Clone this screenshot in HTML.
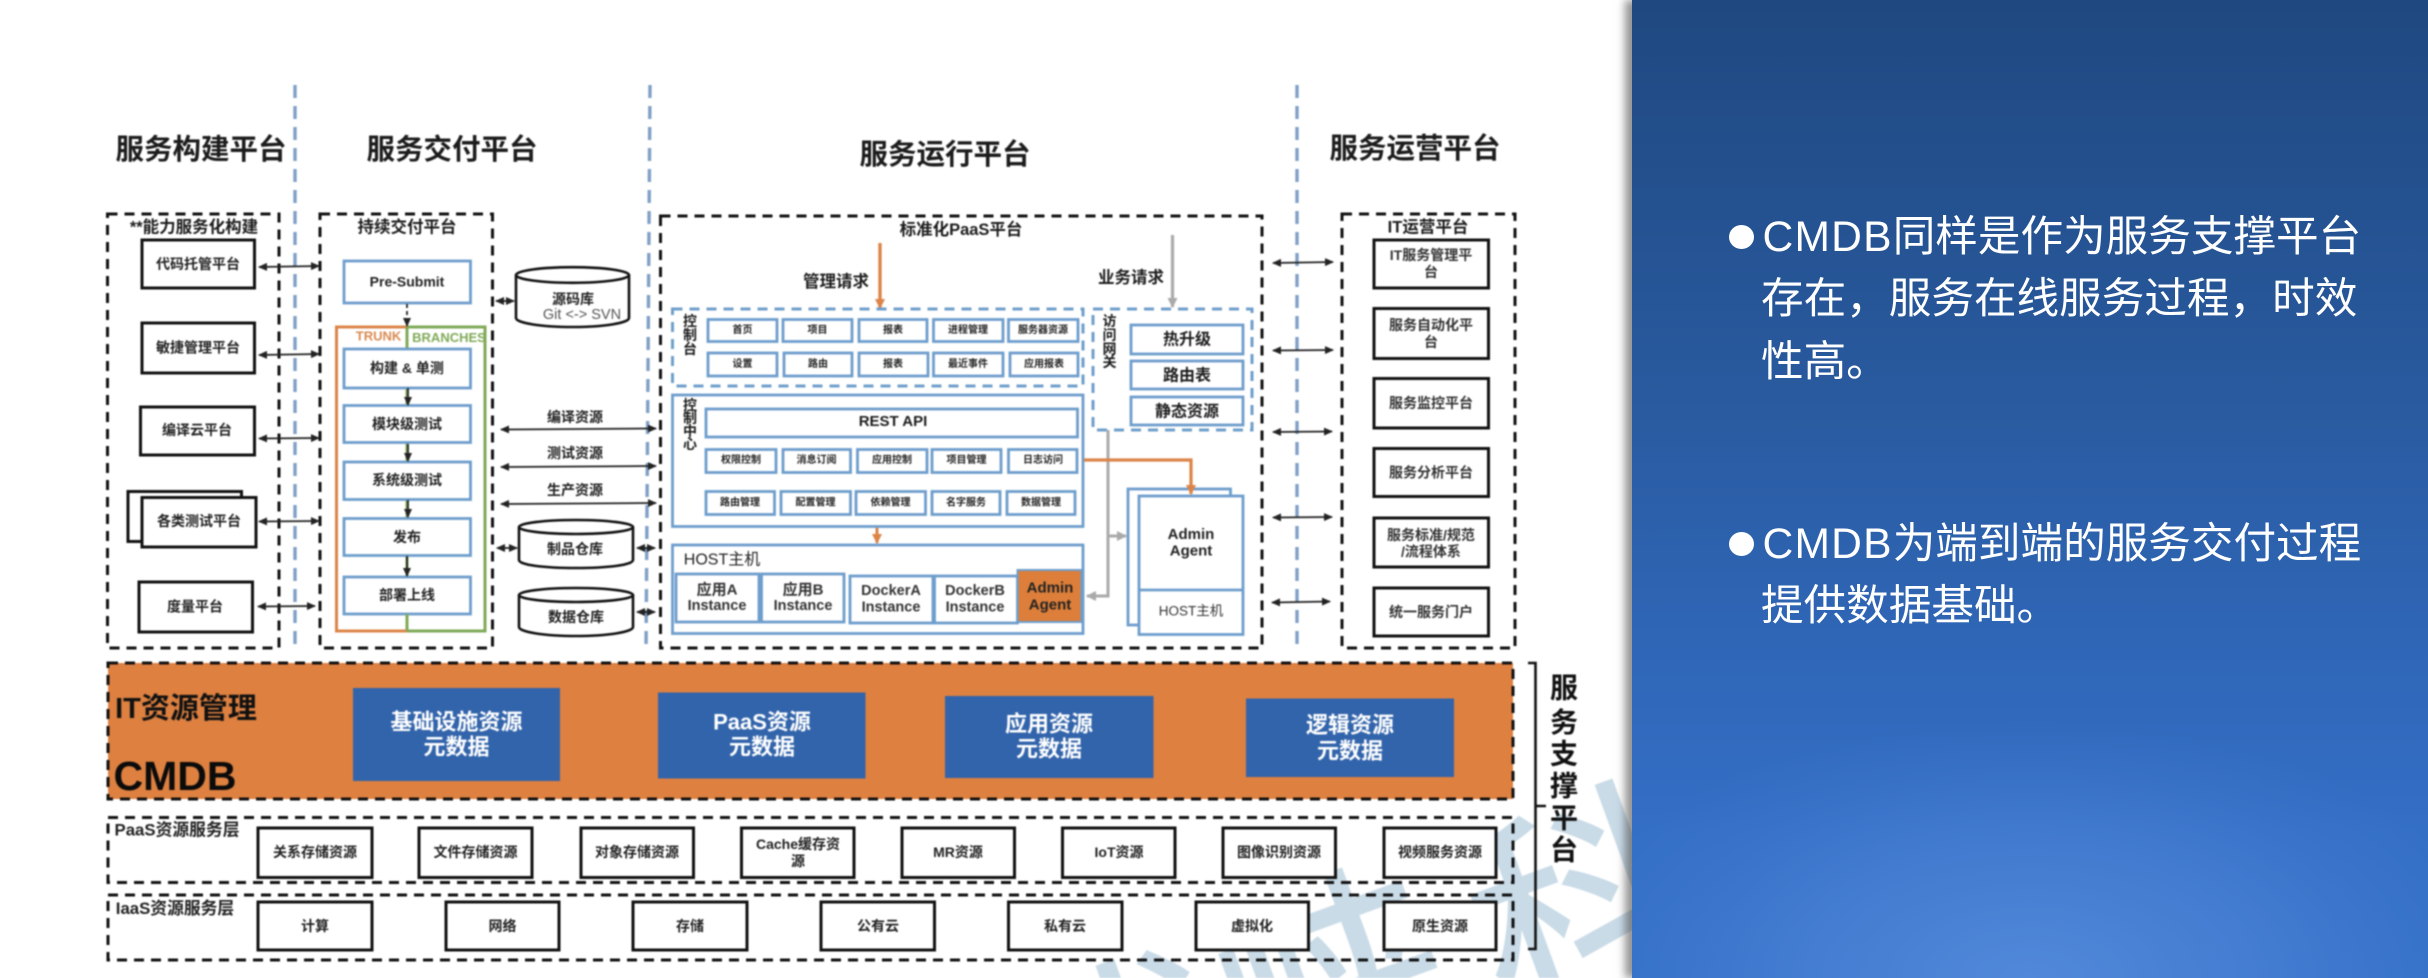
<!DOCTYPE html>
<html lang="zh-CN">
<head>
<meta charset="utf-8">
<title>CMDB 服务支撑平台</title>
<style>
html,body{margin:0;padding:0;background:#fff;width:2428px;height:978px;overflow:hidden;}
body{position:relative;font-family:"Liberation Sans","Noto Sans CJK SC",sans-serif;}
#wrap{position:absolute;left:0;top:0;width:2428px;height:978px;overflow:hidden;contain:paint;}
svg{position:absolute;left:0;top:0;filter:blur(.7px);}
svg text{font-family:"Liberation Sans","Noto Sans CJK SC",sans-serif;font-weight:700;fill:#1c1c1c;text-anchor:middle;dominant-baseline:central;}
.d{fill:none;stroke:#111;stroke-width:3;stroke-dasharray:10 7;}
.bd{fill:none;stroke:#6f9ecb;stroke-width:3;stroke-dasharray:10 7;}
.vl{fill:none;stroke:#7f9fc6;stroke-width:3.4;stroke-dasharray:13 8;}
.k{fill:#fff;stroke:#111;stroke-width:3;}
.b{fill:#fff;stroke:#6d9dcc;stroke-width:2.8;}
.a{stroke:#222;stroke-width:1.8;fill:none;marker-start:url(#ah);marker-end:url(#ah);}
.a1{stroke:#222;stroke-width:1.8;fill:none;marker-end:url(#ah);}
.sm text{font-size:10px;fill:#222;}
.kb text{font-size:14px;fill:#222;}
.bt text{font-size:22px;fill:#fff;}
#panel{position:absolute;left:1632px;top:0;width:796px;height:978px;
background:radial-gradient(ellipse 480px 260px at 50% 100%,rgba(110,160,235,.5) 0%,rgba(110,160,235,.28) 45%,rgba(110,160,235,.08) 80%,rgba(110,160,235,0) 100%),linear-gradient(180deg,#1f4880 0%,#295a9f 40%,#3068ba 70%,#346fc6 85%,#3470c8 100%);
box-shadow:-7px 0 8px rgba(60,60,60,.55);}
.l{position:absolute;left:1761px;color:#fff;font-size:42.6px;line-height:62px;height:62px;white-space:nowrap;font-weight:400;}
.l b{font-weight:400;letter-spacing:1.2px;margin-left:1.5px;}
.dot{position:absolute;left:1729px;width:25px;height:24px;border-radius:50%;background:#fff;}
</style>
</head>
<body>
<div id="wrap">
<svg width="2428" height="978" viewBox="0 0 2428 978" xmlns="http://www.w3.org/2000/svg">
<defs>
<marker id="ah" markerWidth="9" markerHeight="8" refX="8" refY="4" orient="auto-start-reverse" markerUnits="userSpaceOnUse"><path d="M0 0L9 4L0 8z" fill="#222"/></marker>
<marker id="ao" markerWidth="11" markerHeight="10" refX="9" refY="5" orient="auto-start-reverse" markerUnits="userSpaceOnUse"><path d="M0 0L10 5L0 10z" fill="#dc8448"/></marker>
<marker id="ag" markerWidth="11" markerHeight="10" refX="9" refY="5" orient="auto-start-reverse" markerUnits="userSpaceOnUse"><path d="M0 0L10 5L0 10z" fill="#aaa"/></marker>
</defs>

<!-- watermark -->
<g>
<text x="1580" y="905" transform="rotate(-20 1580 905)" style="font-size:215px;fill:#c9dbe7;font-weight:400;stroke:#c9dbe7;stroke-width:3">科</text>
<text x="1335" y="990" transform="rotate(-20 1335 990)" style="font-size:225px;fill:#c9dbe7;font-weight:400;stroke:#c9dbe7;stroke-width:3">峡</text>
<text x="1130" y="1070" transform="rotate(-20 1130 1070)" style="font-size:225px;fill:#c9dbe7;font-weight:400;stroke:#c9dbe7;stroke-width:3">优</text>
</g>

<!-- vertical separators -->
<line class="vl" x1="295" y1="85" x2="295" y2="652"/>
<line class="vl" x1="650" y1="85" x2="646" y2="652"/>
<line class="vl" x1="1297" y1="85" x2="1297" y2="652"/>

<!-- headers -->
<text x="201" y="150" style="font-size:28.5px">服务构建平台</text>
<text x="452" y="150" style="font-size:28.5px">服务交付平台</text>
<text x="945" y="155" style="font-size:28.5px">服务运行平台</text>
<text x="1415" y="149" style="font-size:28.5px">服务运营平台</text>

<!-- outer dashed -->
<rect class="d" x="107.5" y="214" width="171.5" height="434"/>
<rect class="d" x="320" y="214" width="172.5" height="434"/>
<rect class="d" x="660.5" y="216" width="601.5" height="432"/>
<rect class="d" x="1342" y="214" width="173" height="434"/>

<text x="194" y="227.5" style="font-size:16.5px">**能力服务化构建</text>
<text x="407" y="227.5" style="font-size:16.5px">持续交付平台</text>
<text x="961" y="230" style="font-size:16.5px">标准化PaaS平台</text>
<text x="1428" y="227.5" style="font-size:16.5px">IT运营平台</text>

<!-- left column -->
<g class="kb">
<rect class="k" x="142" y="240" width="112.5" height="48"/><text x="198" y="264">代码托管平台</text>
<rect class="k" x="142" y="323" width="112.5" height="50"/><text x="198" y="347.5">敏捷管理平台</text>
<rect class="k" x="140.5" y="407" width="114" height="48"/><text x="197" y="430">编译云平台</text>
<rect class="k" x="128" y="491.5" width="113.5" height="50"/>
<rect class="k" x="142" y="497.5" width="114" height="49.5"/><text x="199" y="521">各类测试平台</text>
<rect class="k" x="139" y="582" width="113.5" height="50"/><text x="195" y="606.5">度量平台</text>
</g>
<line class="a" x1="259" y1="267" x2="319" y2="266"/>
<line class="a" x1="259" y1="355" x2="319" y2="354"/>
<line class="a" x1="259" y1="438.5" x2="319" y2="438"/>
<line class="a" x1="259" y1="521.5" x2="319" y2="521"/>
<line class="a" x1="258" y1="606.5" x2="315" y2="606"/>

<!-- delivery column -->
<rect x="336.5" y="327" width="70.5" height="304" fill="#fff" stroke="#dc8448" stroke-width="3"/>
<rect x="407" y="327" width="78" height="304" fill="#fff" stroke="#7fa957" stroke-width="3"/>
<path d="M336.5 327H407M336.5 631H407M336.5 327V631" fill="none" stroke="#dc8448" stroke-width="3"/>
<text x="378.5" y="336" style="font-size:13px;fill:#d98a50">TRUNK</text>
<text x="449" y="337.5" style="font-size:13px;fill:#7fa957">BRANCHES</text>
<line x1="407" y1="327" x2="407" y2="349" stroke="#7fa957" stroke-width="3"/>
<rect class="b" x="344" y="261" width="126.5" height="42"/><text x="407" y="281.5" style="font-size:14px;fill:#222">Pre-Submit</text>
<rect class="b" x="344" y="349" width="126.5" height="39"/><text x="407" y="368" style="font-size:14px;fill:#222">构建 &amp; 单测</text>
<rect class="b" x="344" y="405.5" width="126.5" height="37"/><text x="407" y="424" style="font-size:14px;fill:#222">模块级测试</text>
<rect class="b" x="344" y="462" width="126.5" height="37.5"/><text x="407" y="480" style="font-size:14px;fill:#222">系统级测试</text>
<rect class="b" x="344" y="518.5" width="126.5" height="37"/><text x="407" y="537" style="font-size:14px;fill:#222">发布</text>
<rect class="b" x="344" y="577" width="126.5" height="37"/><text x="407" y="595" style="font-size:14px;fill:#222">部署上线</text>
<line class="a1" x1="407" y1="304" x2="407" y2="326" stroke-dasharray="4 3"/>
<line class="a1" x1="408" y1="388" x2="408" y2="405"/>
<line class="a1" x1="408" y1="444" x2="408" y2="461"/>
<line class="a1" x1="408" y1="500" x2="408" y2="517"/>
<line class="a1" x1="407" y1="556" x2="407" y2="576"/>
<line x1="407" y1="614" x2="407" y2="631" stroke="#7fa957" stroke-width="3"/>

<!-- cylinders -->
<path d="M516 275V318C516 323 541 327 572.5 327S629 323 629 318V275" fill="#fff" stroke="#111" stroke-width="2.6"/>
<ellipse cx="572.5" cy="275" rx="56.5" ry="7.8" fill="#fff" stroke="#111" stroke-width="2.6"/>
<text x="573" y="299" style="font-size:14px;fill:#222">源码库</text>
<text x="582" y="315" style="font-size:14.5px;fill:#555;font-weight:400">Git &lt;-&gt; SVN</text>

<path d="M519 527V560C519 565 544 568 576 568S633 565 633 560V527" fill="#fff" stroke="#111" stroke-width="2.6"/>
<ellipse cx="576" cy="527" rx="57" ry="7" fill="#fff" stroke="#111" stroke-width="2.6"/>
<text x="575" y="549" style="font-size:14px;fill:#222">制品仓库</text>
<path d="M519 595V627C519 632 544 636 576 636S633 632 633 627V595" fill="#fff" stroke="#111" stroke-width="2.6"/>
<ellipse cx="576" cy="595" rx="57" ry="7" fill="#fff" stroke="#111" stroke-width="2.6"/>
<text x="576" y="617" style="font-size:14px;fill:#222">数据仓库</text>

<line class="a" x1="496" y1="301" x2="514" y2="301"/>
<line class="a" x1="497" y1="548" x2="517" y2="548"/>
<line class="a" x1="637" y1="548" x2="655" y2="548"/>
<line class="a" x1="637" y1="612" x2="655" y2="612"/>

<text x="575" y="417" style="font-size:14px;fill:#222">编译资源</text>
<text x="575" y="453" style="font-size:14px;fill:#222">测试资源</text>
<text x="575" y="490" style="font-size:14px;fill:#222">生产资源</text>
<line class="a" x1="501" y1="429.5" x2="656" y2="428.5"/>
<line class="a" x1="501" y1="467" x2="656" y2="466"/>
<line class="a" x1="501" y1="504" x2="656" y2="503"/>

<!-- PaaS platform internals -->
<line x1="880" y1="243" x2="880" y2="308" stroke="#dc8448" stroke-width="3.4" marker-end="url(#ao)"/>
<text x="836" y="282" style="font-size:16.5px">管理请求</text>
<line x1="1172.5" y1="235" x2="1172.5" y2="307" stroke="#aaa" stroke-width="3.2" marker-end="url(#ag)"/>
<text x="1131" y="278" style="font-size:16.5px">业务请求</text>

<rect class="bd" x="672.5" y="309" width="410.5" height="77"/>
<text x="690" y="321" style="font-size:14px">控</text><text x="690" y="335" style="font-size:14px">制</text><text x="690" y="349" style="font-size:14px">台</text>
<g class="sm">
<rect class="b" x="708" y="319.5" width="69" height="22"/><text x="742.5" y="330.5">首页</text>
<rect class="b" x="783" y="319.5" width="69" height="22"/><text x="817.5" y="330.5">项目</text>
<rect class="b" x="859" y="319.5" width="68" height="22"/><text x="893" y="330.5">报表</text>
<rect class="b" x="933.5" y="319.5" width="69.5" height="22"/><text x="968" y="330.5">进程管理</text>
<rect class="b" x="1008.5" y="319.5" width="69.5" height="22"/><text x="1043" y="330.5">服务器资源</text>
<rect class="b" x="708" y="353" width="69" height="23"/><text x="742.5" y="364.5">设置</text>
<rect class="b" x="784" y="353" width="68" height="23"/><text x="818" y="364.5">路由</text>
<rect class="b" x="859" y="353" width="69" height="23"/><text x="893" y="364.5">报表</text>
<rect class="b" x="933.5" y="353" width="69.5" height="23"/><text x="968" y="364.5">最近事件</text>
<rect class="b" x="1010" y="353" width="68" height="23"/><text x="1044" y="364.5">应用报表</text>
</g>

<rect class="bd" x="1093" y="309" width="159" height="121"/>
<text x="1109.5" y="321" style="font-size:14px">访</text><text x="1109.5" y="335" style="font-size:14px">问</text><text x="1109.5" y="349" style="font-size:14px">网</text><text x="1109.5" y="362" style="font-size:14px">关</text>
<rect class="b" x="1131" y="325" width="112" height="29"/><text x="1187" y="340" style="font-size:16px">热升级</text>
<rect class="b" x="1131" y="361" width="112" height="28"/><text x="1187" y="376" style="font-size:16px">路由表</text>
<rect class="b" x="1131" y="397" width="112" height="28"/><text x="1187" y="412" style="font-size:16px">静态资源</text>

<rect class="b" x="672.5" y="395" width="410.5" height="131.5"/>
<text x="690" y="405" style="font-size:14px">控</text><text x="690" y="418" style="font-size:14px">制</text><text x="690" y="431" style="font-size:14px">中</text><text x="690" y="444" style="font-size:14px">心</text>
<rect class="b" x="706" y="409" width="371.5" height="28"/><text x="893" y="421.5" style="font-size:15px">REST API</text>
<g class="sm">
<rect class="b" x="706" y="449.5" width="70" height="23"/><text x="741" y="460.5">权限控制</text>
<rect class="b" x="783" y="449.5" width="67.5" height="23"/><text x="816.5" y="460.5">消息订阅</text>
<rect class="b" x="857.5" y="449.5" width="69.5" height="23"/><text x="892" y="460.5">应用控制</text>
<rect class="b" x="932" y="449.5" width="69" height="23"/><text x="966.5" y="460.5">项目管理</text>
<rect class="b" x="1008.5" y="449.5" width="68.5" height="23"/><text x="1043" y="460.5">日志访问</text>
<rect class="b" x="706" y="491.5" width="68.5" height="23"/><text x="740" y="503">路由管理</text>
<rect class="b" x="781" y="491.5" width="69.5" height="23"/><text x="815.5" y="503">配置管理</text>
<rect class="b" x="856" y="491.5" width="69.5" height="23"/><text x="890.5" y="503">依赖管理</text>
<rect class="b" x="932" y="491.5" width="68" height="23"/><text x="966" y="503">名字服务</text>
<rect class="b" x="1007" y="491.5" width="68" height="23"/><text x="1041" y="503">数据管理</text>
</g>

<line x1="877" y1="528" x2="877" y2="543" stroke="#dc8448" stroke-width="3" marker-end="url(#ao)"/>

<rect class="b" x="672.5" y="545" width="410.5" height="88.5"/>
<text x="722" y="560" style="font-size:16px;font-weight:400;fill:#222">HOST主机</text>
<rect class="b" x="676" y="574" width="83" height="48"/>
<rect class="b" x="761.5" y="574" width="82.5" height="48"/>
<rect class="b" x="850" y="576" width="83" height="47"/>
<rect class="b" x="934.5" y="576" width="83" height="47"/>
<rect x="1017.5" y="570" width="64" height="52" fill="#dd7f3a" stroke="#6d9dcc" stroke-width="2"/>
<text x="717" y="590" style="font-size:15px;fill:#333">应用A</text><text x="717" y="606" style="font-size:14.5px;fill:#333">Instance</text>
<text x="803" y="590" style="font-size:15px;fill:#333">应用B</text><text x="803" y="606" style="font-size:14.5px;fill:#333">Instance</text>
<text x="891" y="591" style="font-size:14.5px;fill:#333">DockerA</text><text x="891" y="607.5" style="font-size:14.5px;fill:#333">Instance</text>
<text x="975" y="591" style="font-size:14.5px;fill:#333">DockerB</text><text x="975" y="607.5" style="font-size:14.5px;fill:#333">Instance</text>
<text x="1050" y="588" style="font-size:15px;fill:#222">Admin</text><text x="1050" y="605" style="font-size:15px;fill:#222">Agent</text>

<!-- right stack -->
<rect class="b" x="1128" y="489" width="102.5" height="136"/>
<rect class="b" x="1139" y="496" width="104" height="138.5"/>
<line x1="1139" y1="590" x2="1243" y2="590" stroke="#6d9dcc" stroke-width="2.8"/>
<text x="1191" y="534.5" style="font-size:15px;fill:#222">Admin</text>
<text x="1191" y="551" style="font-size:15px;fill:#222">Agent</text>
<text x="1191" y="611" style="font-size:13.5px;fill:#333;font-weight:400">HOST主机</text>

<path d="M1108 430V596H1087" fill="none" stroke="#aaa" stroke-width="3" marker-end="url(#ag)"/>
<path d="M1108 536H1126" fill="none" stroke="#aaa" stroke-width="3" marker-end="url(#ag)"/>
<path d="M1084 460H1191V494" fill="none" stroke="#dc8448" stroke-width="3.2" marker-end="url(#ao)"/>

<!-- right column -->
<g class="kb">
<rect class="k" x="1374" y="240" width="114.5" height="48"/><text x="1431" y="255" style="fill:#333">IT服务管理平</text><text x="1431" y="272" style="fill:#333">台</text>
<rect class="k" x="1374" y="308.5" width="114.5" height="50"/><text x="1431" y="325" style="fill:#333">服务自动化平</text><text x="1431" y="342" style="fill:#333">台</text>
<rect class="k" x="1374" y="378.5" width="114.5" height="49.5"/><text x="1431" y="403" style="fill:#333">服务监控平台</text>
<rect class="k" x="1374" y="448.5" width="114.5" height="48"/><text x="1431" y="472.5" style="fill:#333">服务分析平台</text>
<rect class="k" x="1374" y="518" width="114.5" height="49"/><text x="1431" y="535" style="fill:#333">服务标准/规范</text><text x="1431" y="551.5" style="fill:#333">/流程体系</text>
<rect class="k" x="1374" y="588" width="114.5" height="48"/><text x="1431" y="612" style="fill:#333">统一服务门户</text>
</g>
<line class="a" x1="1273" y1="263" x2="1333" y2="262"/>
<line class="a" x1="1273" y1="350.5" x2="1333" y2="350"/>
<line class="a" x1="1273" y1="432" x2="1332" y2="431.5"/>
<line class="a" x1="1273" y1="517.5" x2="1332" y2="517"/>
<line class="a" x1="1272" y1="602.5" x2="1330" y2="601.5"/>

<!-- CMDB band -->
<rect x="108" y="663" width="1405" height="136" fill="#dd8040"/>
<rect class="d" x="108" y="663" width="1405" height="136"/>
<text x="186" y="709" style="font-size:29px;fill:#111">IT资源管理</text>
<text x="175" y="776" style="font-size:41px;fill:#0b0b0b">CMDB</text>
<g class="bt">
<rect x="353" y="688" width="207" height="93" fill="#3264ab"/><text x="456.5" y="722">基础设施资源</text><text x="456.5" y="747">元数据</text>
<rect x="658" y="692.5" width="207.5" height="86" fill="#3264ab"/><text x="762" y="722">PaaS资源</text><text x="762" y="747">元数据</text>
<rect x="945" y="696" width="208.5" height="82" fill="#3264ab"/><text x="1049" y="724">应用资源</text><text x="1049" y="749">元数据</text>
<rect x="1246" y="698.5" width="208" height="78.5" fill="#3264ab"/><text x="1350" y="725">逻辑资源</text><text x="1350" y="751">元数据</text>
</g>

<!-- PaaS / IaaS layers -->
<rect class="d" x="108" y="817.5" width="1405" height="65"/>
<rect class="d" x="108" y="895" width="1405" height="65"/>
<text x="177" y="830" style="font-size:16.8px;fill:#222">PaaS资源服务层</text>
<text x="175" y="908.5" style="font-size:16.8px;fill:#222">IaaS资源服务层</text>
<g class="kb">
<rect class="k" x="258" y="828" width="114" height="49.5"/><text x="315" y="852">关系存储资源</text>
<rect class="k" x="419" y="828" width="113" height="49.5"/><text x="475.5" y="852">文件存储资源</text>
<rect class="k" x="581" y="828" width="112.5" height="49.5"/><text x="637" y="852">对象存储资源</text>
<rect class="k" x="741.5" y="828" width="112.5" height="49.5"/><text x="798" y="844">Cache缓存资</text><text x="798" y="861">源</text>
<rect class="k" x="902" y="828" width="112.5" height="49.5"/><text x="958" y="852">MR资源</text>
<rect class="k" x="1062.5" y="828" width="112.5" height="49.5"/><text x="1119" y="852">IoT资源</text>
<rect class="k" x="1223" y="828" width="112.5" height="49.5"/><text x="1279" y="852">图像识别资源</text>
<rect class="k" x="1384" y="828" width="112" height="49.5"/><text x="1440" y="852">视频服务资源</text>
<rect class="k" x="258" y="902" width="114" height="48"/><text x="315" y="926">计算</text>
<rect class="k" x="446" y="902" width="113" height="48"/><text x="502.5" y="926">网络</text>
<rect class="k" x="633" y="902" width="114" height="48"/><text x="690" y="926">存储</text>
<rect class="k" x="821" y="902" width="113.5" height="48"/><text x="878" y="926">公有云</text>
<rect class="k" x="1008.5" y="902" width="113.5" height="48"/><text x="1065" y="926">私有云</text>
<rect class="k" x="1196" y="902" width="112.5" height="48"/><text x="1252" y="926">虚拟化</text>
<rect class="k" x="1384" y="902" width="112" height="48"/><text x="1440" y="926">原生资源</text>
</g>

<!-- bracket -->
<path d="M1528 663H1535.5V949H1528M1535.5 806H1546" fill="none" stroke="#111" stroke-width="2.6"/>
<text x="1564" y="688" style="font-size:28px;fill:#111">服</text>
<text x="1564" y="722.5" style="font-size:28px;fill:#111">务</text>
<text x="1564" y="754" style="font-size:28px;fill:#111">支</text>
<text x="1564" y="786" style="font-size:28px;fill:#111">撑</text>
<text x="1564" y="818" style="font-size:28px;fill:#111">平</text>
<text x="1564" y="850" style="font-size:28px;fill:#111">台</text>
</svg>
</div>

<div id="panel"></div>
<div class="dot" style="top:225px"></div>
<div class="l" style="top:206px"><b>CMDB</b>同样是作为服务支撑平台</div>
<div class="l" style="top:268px">存在，服务在线服务过程，时效</div>
<div class="l" style="top:331px">性高。</div>
<div class="dot" style="top:532px"></div>
<div class="l" style="top:513px"><b>CMDB</b>为端到端的服务交付过程</div>
<div class="l" style="top:575px">提供数据基础。</div>
</body>
</html>
